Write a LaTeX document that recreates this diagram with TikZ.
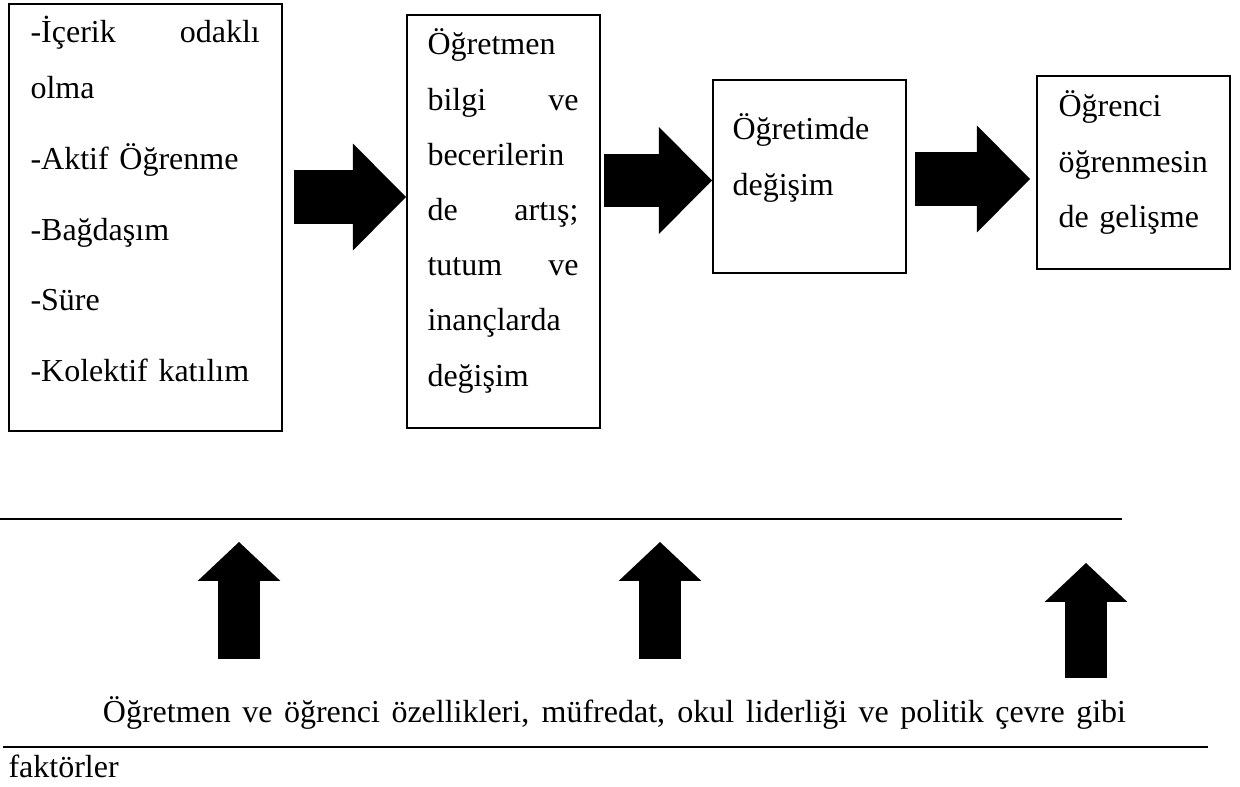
\documentclass[tikz,border=0pt]{standalone}
\usepackage{fontspec}
\setmainfont{Liberation Serif}
\usetikzlibrary{arrows.meta}

\begin{document}
\begin{tikzpicture}[x=0.375pt, y=-0.375pt,
    box/.style={draw, line width=0.75pt, inner sep=0pt, anchor=north west, minimum width=72.4pt},
    boxtext/.style={inner sep=0pt, anchor=base west, align=left, text width=60pt, font=\rmfamily\fontsize{12}{20.7}\selectfont},
    fatarrow/.style={line width=19.9pt, -{Triangle[length=19.9pt, width=40.1pt, line width=0pt]}},
    uparrow/.style={line width=15.75pt, -{Triangle[length=14.6pt, width=31pt, line width=0pt]}},
    rule/.style={line width=0.45pt}]
  \useasboundingbox (0,0) rectangle (1240,787);

  % boxes
  \node[box, minimum width=102.4pt, minimum height=160.1pt] (b1) at (8,3) {};
  \node[box, minimum height=154.9pt] (b2) at (406,14) {};
  \node[box, minimum height=72.4pt] (b3) at (712,79) {};
  \node[box, minimum height=72.4pt] (b4) at (1036,75) {};

  % box texts
  \node[boxtext, text width=86pt] (t1) at (30,43) {-İçerik\hfill odaklı\\olma\\[5.9pt]-Aktif Öğrenme\\[5.9pt]-Bağdaşım\\[5.9pt]-Süre\\[5.9pt]-Kolektif katılım};
  \node[boxtext, text width=56.6pt] (t2) at (427,55) {Öğretmen\\bilgi\hfill ve\\becerilerin\\de\hfill artış;\\tutum\hfill ve\\inançlarda\\değişim};
  \node[boxtext] (t3) at (732,140) {Öğretimde\\değişim};
  \node[boxtext] (t4) at (1058,117) {Öğrenci\\öğrenmesin\\de gelişme};

  % arrows between the boxes
  \coordinate (r1) at (294,197);
  \coordinate (r2) at (604,180.5);
  \coordinate (r3) at (915,179);
  \draw[fatarrow] (r1) -- (r1 -| b2.west);
  \draw[fatarrow] (r2) -- (r2 -| b3.west);
  \draw[fatarrow, shorten >=2.25pt] (r3) -- (r3 -| b4.west);

  % rules
  \draw[rule] (0,519) -- (1122,519);
  \draw[rule] (3,747) -- (1208,747);

  % arrows from the factors
  \foreach \name/\xa/\ytip/\ybase in {u1/239/542/659, u2/660/542/659, u3/1086/563/678}{
    \coordinate (\name s) at (\xa,\ybase);
    \coordinate (\name e) at (\xa,\ytip);
    \draw[uparrow] (\name s) -- (\name e);
  }

  \node[boxtext, text width=420pt] (factors) at (8,722) {\hspace*{35.4pt}\hbox to 383.6pt{\spaceskip=3pt plus 1fil\relax Öğretmen ve öğrenci özellikleri, müfredat, okul liderliği ve politik çevre gibi}\\faktörler};
\end{tikzpicture}
\end{document}
